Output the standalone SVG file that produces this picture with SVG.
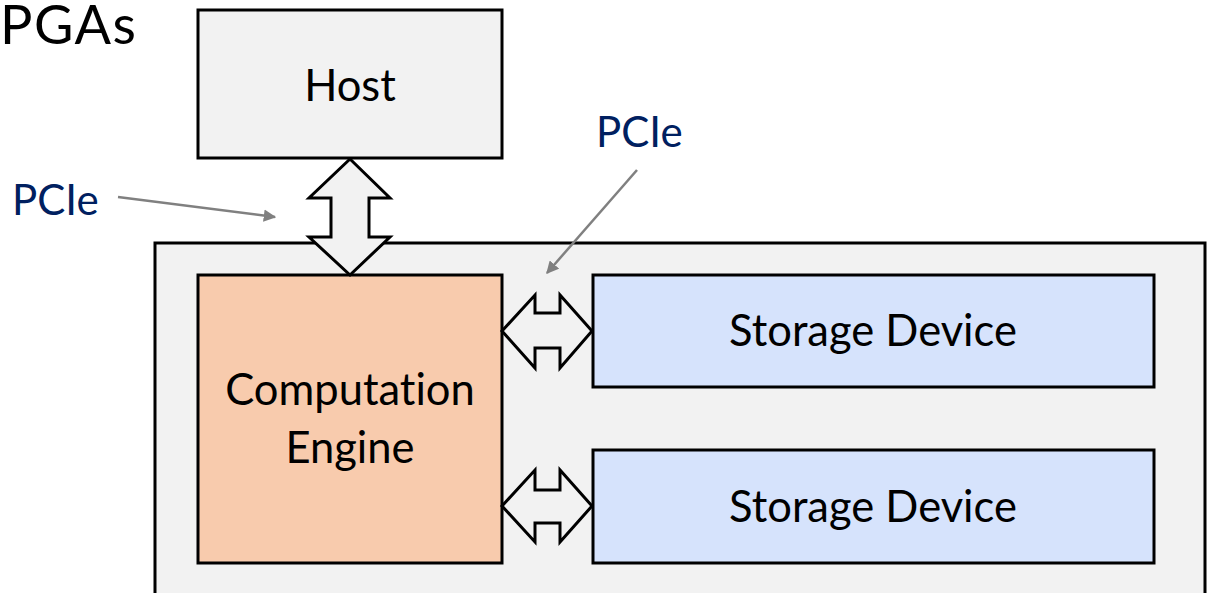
<svg xmlns="http://www.w3.org/2000/svg" width="1216" height="593" viewBox="0 0 1216 593">
  <style>
    text { font-variant-ligatures: none; font-feature-settings: "liga" 0; }
    .box { stroke: #000; stroke-width: 3; }
    .lbl { font-family: Lato, "Liberation Sans", sans-serif; font-size: 43.5px; fill: #000; text-anchor: middle; }
    .pcie { font-family: Lato, "Liberation Sans", sans-serif; font-size: 42px; fill: #002060; }
    .link { fill: #f2f2f2; stroke: #000; stroke-width: 3; stroke-linejoin: miter; }
    .callout { stroke: #808080; stroke-width: 2.5; fill: none; marker-end: url(#grayHead); }
  </style>
  <defs>
    <marker id="grayHead" viewBox="0 0 10 10" refX="9" refY="5" markerWidth="5" markerHeight="5" markerUnits="strokeWidth" orient="auto">
      <path d="M0,0 L10,5 L0,10 z" fill="#808080"/>
    </marker>
  </defs>
  <rect width="1216" height="593" fill="#fff"/>

  <text x="0" y="44" font-family="Lato, Liberation Sans, sans-serif" font-size="54" letter-spacing="1.5" fill="#000">PGAs</text>

  <g id="board">
    <rect class="box" x="155" y="243" width="1050" height="370" fill="#f2f2f2"/>
  </g>

  <g id="host">
    <rect class="box" x="198" y="10" width="304" height="148" fill="#f2f2f2"/>
    <text class="lbl" x="350" y="101">Host</text>
  </g>

  <g id="engine">
    <rect class="box" x="198" y="275" width="304" height="288" fill="#f8cbad"/>
    <text class="lbl" x="350" y="405">Computation</text>
    <text class="lbl" x="350" y="463">Engine</text>
  </g>

  <g id="storage1">
    <rect class="box" x="593" y="275" width="561" height="112" fill="#d6e3fc"/>
    <text class="lbl" x="873" y="346">Storage Device</text>
  </g>

  <g id="storage2">
    <rect class="box" x="593" y="450" width="561" height="113" fill="#d6e3fc"/>
    <text class="lbl" x="873" y="522">Storage Device</text>
  </g>

  <g id="connectors">
    <!-- host <-> engine -->
    <path class="link" d="M350,159 L390,198 L369,198 L369,237 L390,237 L350,275 L309,237 L331,237 L331,198 L309,198 Z"/>
    <!-- engine <-> storage 1 -->
    <path class="link" d="M502,331 L535,295 L535,313 L560,313 L560,295 L592,331 L560,368 L560,348 L535,348 L535,368 Z"/>
    <!-- engine <-> storage 2 -->
    <path class="link" d="M502,506 L535,470 L535,490 L560,490 L560,470 L592,506 L560,542 L560,523 L535,523 L535,542 Z"/>
    <!-- PCIe callouts -->
    <line class="callout" x1="118" y1="197" x2="275" y2="217"/>
    <line class="callout" x1="637" y1="170" x2="547" y2="273"/>
  </g>

  <text class="pcie" x="12" y="215">PCIe</text>
  <text class="pcie" x="596" y="147">PCIe</text>
</svg>
